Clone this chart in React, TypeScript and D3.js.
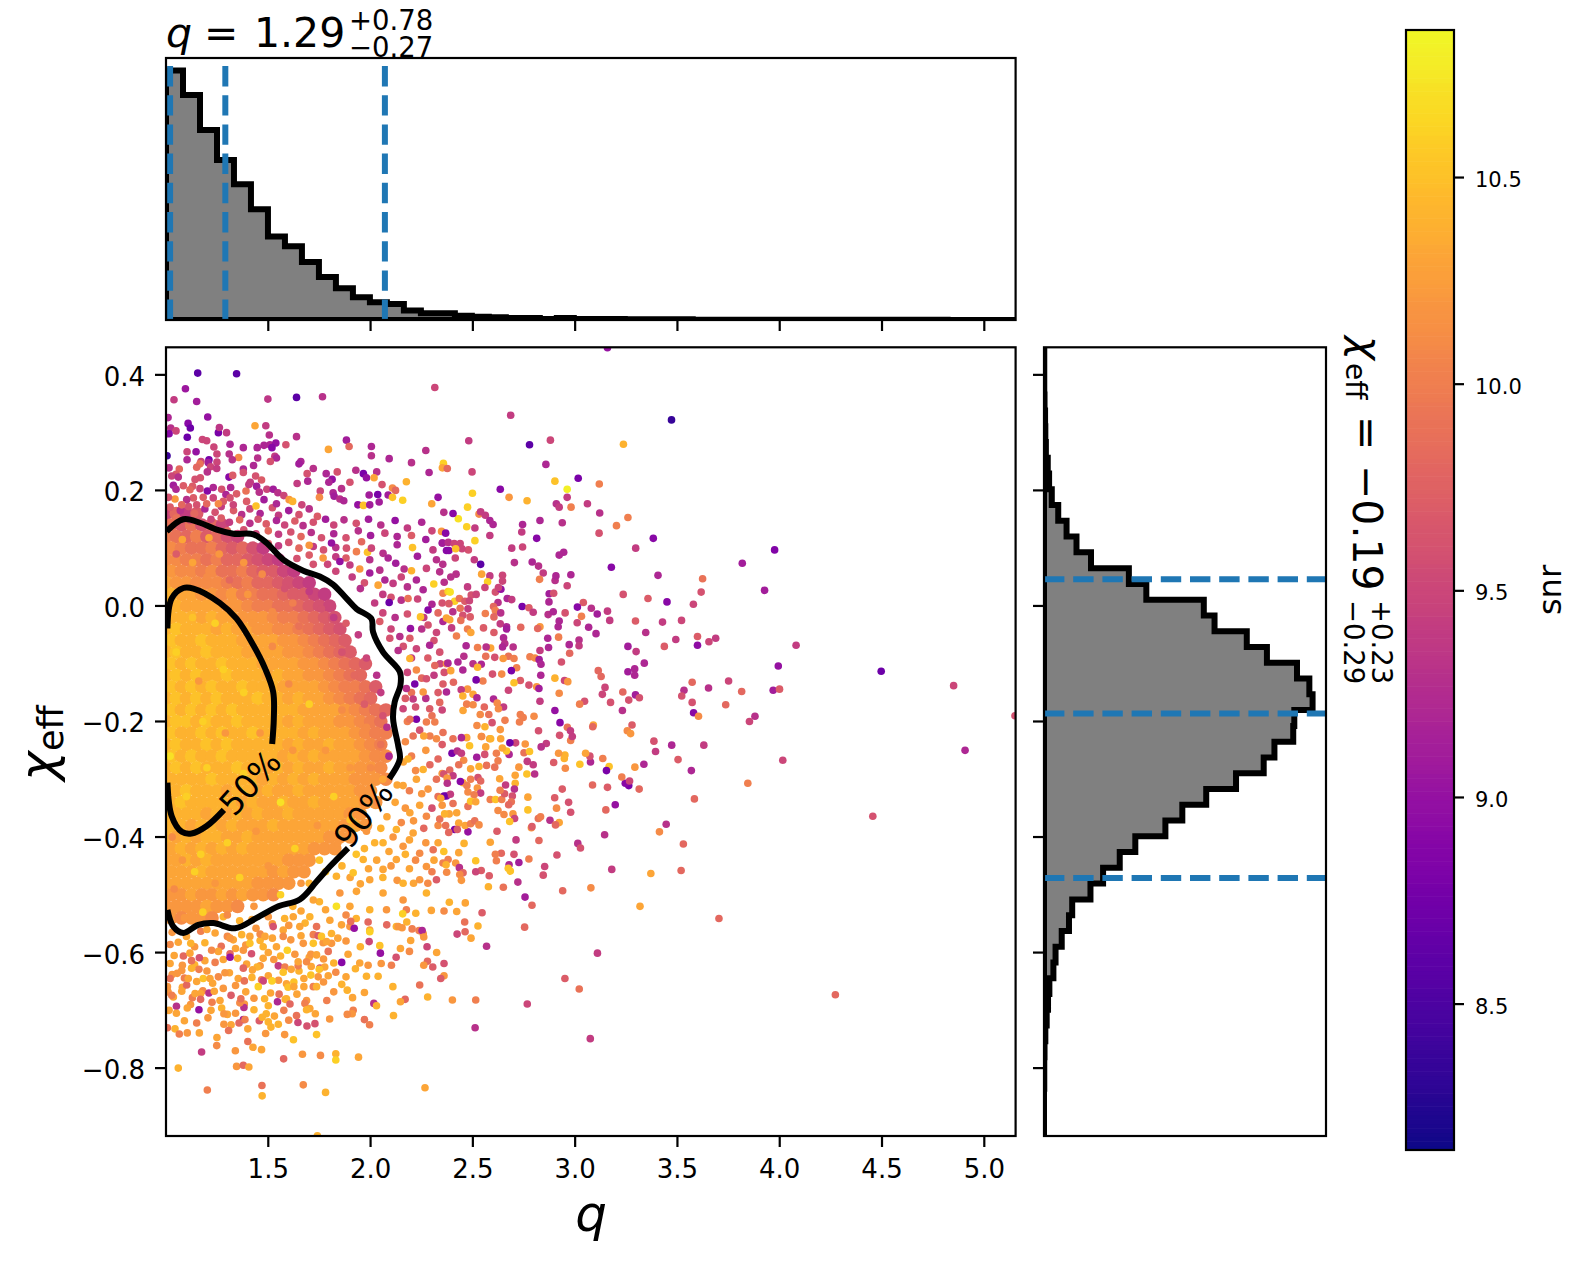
import React from 'react';
import * as d3 from 'd3';

// histograms: 50 bins over the axis range, heights relative to the tallest bin (=1000)
const qHist = [1000,902,761,641,544,444,335,296,232,172,127,91,71,64,38,27,27,17,13,11,8,8,4,8,4,4,4,3,3,3,3,1,1,1,1,1,1,1,1,1,1,1,1,1,1,1,0,0,0,0];
const chiHist = [1,1,1,2,4,5,7,14,19,29,53,84,121,175,316,381,595,635,755,830,942,988,1000,932,928,858,818,715,604,515,452,340,282,220,173,105,93,66,43,35,20,15,10,5,2,1,1,0,0,0];

const qQuantiles = [1.02, 1.29, 2.07];
const chiQuantiles = [0.046, -0.186, -0.471];

const qTicks = [1.5,2,2.5,3,3.5,4,4.5,5];
const chiTicks = [0.4,0.2,0,-0.2,-0.4,-0.6,-0.8];
const snrTicks = [8.5,9,9.5,10,10.5];

const qRange = [1, 5.153];
const chiRange = [-0.9175, 0.4477];
const snrRange = [8.147, 10.857];

// contours, split where the inline labels sit
const c90Upper = [[1.003,.129],[1.085,.15],[1.166,.144],[1.248,.132],[1.329,.125],[1.427,.124],[1.492,.109],[1.573,.08],[1.671,.061],[1.752,.051],[1.817,.037],[1.882,.013],[1.931,-.005],[2.004,-.022],[2.012,-.045],[2.061,-.08],[2.143,-.114],[2.146,-.137],[2.118,-.166],[2.11,-.195],[2.135,-.242],[2.143,-.265],[2.091,-.299]];
const c90Lower = [[1.89,-.419],[1.801,-.451],[1.736,-.477],[1.654,-.508],[1.549,-.52],[1.443,-.54],[1.337,-.558],[1.231,-.549],[1.158,-.552],[1.085,-.566],[1.036,-.555],[1.007,-.526]];
const c50Upper = [[1.007,-.039],[1.028,.013],[1.085,.031],[1.134,.03],[1.264,.005],[1.345,-.022],[1.427,-.068],[1.484,-.108],[1.524,-.149],[1.527,-.195],[1.519,-.239]];
const c50Lower = [[1.283,-.353],[1.199,-.381],[1.125,-.394],[1.077,-.391],[1.028,-.364],[1.007,-.306]];

// dense core of the scatter: too many points to read one by one, so this is the
// snr seen in each cell, rows from chi=0.16 down in 0.02 steps, columns from q=1 in 0.05 steps
const coreRows = [
[9.5,9.8,9.4,9.7],
[9.9,9.7,9.9,9.6,9.8,9.5],
[10.0,9.9,9.8,10.0,9.7,9.8,9.6,9.5],
[10.1,10.0,9.9,9.9,10.0,9.8,9.7,9.8,9.6,9.4],
[10.1,10.1,10.0,10.0,9.9,10.0,9.8,9.8,9.7,9.6,9.5,9.4],
[10.2,10.1,10.1,10.0,10.1,9.9,9.9,10.0,9.8,9.7,9.7,9.5,9.4],
[10.3,10.2,10.2,10.1,10.1,10.1,10.0,9.9,10.0,9.8,9.8,9.7,9.6,9.5,9.4],
[10.4,10.3,10.3,10.2,10.2,10.1,10.2,10.0,10.0,9.9,9.9,9.8,9.7,9.7,9.5,9.4],
[10.4,10.4,10.3,10.3,10.3,10.3,10.2,10.2,10.1,10.0,10.0,9.9,9.9,9.8,9.7,9.6,9.5],
[10.4,10.4,10.4,10.3,10.4,10.3,10.3,10.2,10.2,10.2,10.1,10.0,10.0,9.9,9.8,9.7,9.6],
[10.4,10.5,10.4,10.4,10.4,10.3,10.4,10.3,10.3,10.2,10.2,10.1,10.1,10.0,9.9,9.8,9.7,9.6],
[10.5,10.4,10.4,10.5,10.4,10.4,10.4,10.3,10.3,10.3,10.3,10.2,10.2,10.1,10.0,9.9,9.8,9.7],
[10.4,10.5,10.4,10.4,10.5,10.4,10.4,10.4,10.3,10.3,10.3,10.3,10.2,10.2,10.1,10.0,9.9,9.8,9.7],
[10.5,10.4,10.5,10.4,10.4,10.5,10.4,10.4,10.4,10.3,10.3,10.3,10.3,10.2,10.2,10.1,10.0,9.9,9.8,9.7],
[10.4,10.5,10.4,10.5,10.4,10.4,10.5,10.4,10.4,10.4,10.3,10.4,10.3,10.3,10.2,10.2,10.1,10.0,9.9,9.8],
[10.5,10.4,10.5,10.4,10.5,10.4,10.4,10.5,10.4,10.4,10.4,10.3,10.3,10.3,10.3,10.2,10.1,10.0,10.0,9.9,9.7],
[10.4,10.5,10.4,10.5,10.4,10.5,10.4,10.4,10.4,10.5,10.4,10.4,10.3,10.4,10.3,10.3,10.2,10.1,10.0,9.9,9.8],
[10.5,10.4,10.5,10.4,10.5,10.4,10.5,10.4,10.4,10.4,10.4,10.4,10.4,10.3,10.3,10.3,10.3,10.2,10.1,10.0,9.9,9.8],
[10.4,10.5,10.5,10.4,10.5,10.4,10.4,10.5,10.4,10.4,10.4,10.4,10.3,10.4,10.3,10.3,10.3,10.2,10.2,10.1,10.0,9.9],
[10.5,10.4,10.4,10.5,10.4,10.5,10.4,10.4,10.5,10.4,10.4,10.4,10.4,10.3,10.4,10.3,10.3,10.3,10.2,10.1,10.0,10.0],
[10.4,10.5,10.4,10.4,10.5,10.4,10.5,10.4,10.4,10.4,10.4,10.4,10.3,10.4,10.3,10.3,10.4,10.3,10.3,10.2,10.1,10.0],
[10.5,10.4,10.5,10.4,10.4,10.5,10.4,10.4,10.4,10.4,10.4,10.3,10.4,10.3,10.4,10.3,10.3,10.3,10.3,10.2,10.1,10.1],
[10.4,10.5,10.4,10.5,10.4,10.4,10.4,10.5,10.4,10.4,10.3,10.4,10.3,10.4,10.3,10.3,10.4,10.3,10.3,10.2,10.2,10.1],
[10.4,10.4,10.4,10.4,10.5,10.4,10.4,10.4,10.4,10.3,10.4,10.3,10.4,10.3,10.4,10.3,10.3,10.3,10.2,10.2,10.2,10.1],
[10.4,10.4,10.5,10.4,10.4,10.4,10.3,10.4,10.4,10.3,10.4,10.3,10.3,10.4,10.3,10.3,10.3,10.3,10.3,10.2,10.2],
[10.4,10.5,10.4,10.4,10.4,10.4,10.4,10.3,10.4,10.3,10.3,10.4,10.3,10.3,10.4,10.3,10.3,10.3,10.3,10.2,10.2],
[10.4,10.4,10.4,10.4,10.3,10.4,10.3,10.4,10.3,10.4,10.3,10.3,10.4,10.3,10.3,10.3,10.3,10.3,10.2,10.2],
[10.4,10.4,10.3,10.4,10.4,10.3,10.4,10.3,10.3,10.3,10.4,10.3,10.3,10.3,10.3,10.3,10.3,10.2,10.3,10.2],
[10.4,10.3,10.4,10.3,10.4,10.4,10.3,10.3,10.4,10.3,10.3,10.3,10.3,10.3,10.3,10.3,10.2,10.2,10.2],
[10.3,10.4,10.3,10.4,10.3,10.4,10.3,10.4,10.3,10.3,10.3,10.3,10.3,10.3,10.2,10.2,10.2],
[10.3,10.3,10.4,10.3,10.4,10.3,10.3,10.3,10.3,10.3,10.3,10.3,10.2,10.2,10.2],
[10.3,10.3,10.3,10.4,10.3,10.3,10.3,10.3,10.3,10.3,10.2,10.3,10.2,10.2],
[10.3,10.3,10.3,10.3,10.3,10.3,10.3,10.3,10.3,10.2,10.2,10.2,10.2],
[10.2,10.2,10.3,10.2,10.2,10.3,10.2,10.3,10.2,10.2,10.1],
[10.2,10.2,10.2,10.2,10.3,10.2,10.2,10.1],
[10.2,10.1,10.2,10.2,10.1],
];

// single points: [q, chi, snr]
const upperPoints = [[1.155,.403,8.6],[1.345,.402,8.6],[1.095,.376,9.05],[1.039,.357,9.4],[1.15,.354,9.1],[1.498,.358,9.35],[1.638,.361,8.6],[1.765,.362,9.3],[2.314,.378,9.5],[1.01,.326,9.2],[1.204,.327,9],[1.108,.316,8.9],[1.119,.308,8.7],[1.023,.308,9.3],[1.049,.303,9.5],[1.015,.298,8.9],[1.104,.292,8.7],[1.256,.3,8.8],[1.261,.309,9.35],[1.296,.3,9.4],[1.435,.312,10.3],[1.488,.312,9.4],[1.505,.296,9.3],[1.638,.293,9.3],[1.178,.288,9.5],[1.199,.286,9.5],[1.313,.28,9.2],[1.234,.275,9.5],[1.103,.267,9.5],[1.147,.267,9],[1.249,.263,9.5],[1.378,.274,9.2],[1.446,.274,9.2],[1.479,.278,9.2],[1.508,.279,9.2],[1.537,.282,9],[1.518,.274,8.9],[1.586,.279,9.6],[1.882,.287,9.1],[1.794,.271,10.3],[1.895,.276,9.8],[2.004,.276,9.2],[2.27,.269,9.3],[2.48,.286,9.4],[1.005,.26,8.4],[1.103,.253,9.2],[1.21,.253,8.8],[1.207,.248,9.1],[1.171,.25,9.5],[1.249,.249,9.5],[1.309,.263,9.3],[1.355,.257,10.1],[1.324,.253,9.3],[1.448,.256,9.3],[1.532,.259,9.4],[1.54,.256,9.2],[1.51,.25,9.6],[1.428,.243,9.2],[1.659,.25,9.2],[1.65,.246,9.1],[2.004,.26,9.3],[2.091,.255,9.2],[2.2,.248,9.3],[2.356,.247,10.6],[2.351,.239,10.3],[2.375,.238,9.8],[2.286,.231,9.2],[1.166,.246,9.9],[1.15,.24,9.8],[1.015,.239,9.3],[1.065,.237,9.8],[1.218,.241,9.5],[1.248,.238,9.4],[1.378,.237,9.2],[1.72,.238,9.3],[1.69,.229,9.6],[1.928,.235,9.3],[1.837,.232,9.6],[1.783,.229,9.2],[1.965,.229,8.8],[2.03,.232,9.3],[1.98,.222,9],[2.017,.222,10.3],[2.175,.215,10.4],[1.049,.228,9.7],[1.028,.225,9.5],[1.06,.223,9.3],[1.168,.222,9.6],[1.142,.219,9.6],[1.202,.232,9.3],[1.308,.223,8.9],[1.326,.226,9.7],[1.378,.231,9.6],[1.438,.225,9.6],[1.412,.214,9.4],[1.467,.218,9.7],[1.641,.212,9.4],[1.693,.216,9.2],[1.812,.219,9],[1.796,.214,9.2],[1.899,.214,9.6],[2.056,.21,9.6],[1.036,.209,9.1],[1.049,.202,9.2],[1.085,.208,9.7],[1.13,.207,9.7],[1.117,.201,9.8],[1.166,.203,9.5],[1.202,.199,8.9],[1.231,.205,9.2],[1.272,.202,9.6],[1.316,.205,9.2],[1.293,.193,9.2],[1.345,.194,9.7],[1.391,.199,9.9],[1.405,.21,9.4],[1.443,.207,9.1],[1.456,.197,9.3],[1.493,.202,9.5],[1.524,.202,9.1],[1.547,.196,9.3],[1.576,.191,9.5],[1.754,.199,9.5],[1.817,.196,9.2],[1.858,.203,9.3],[2.107,.204,10.1],[2.122,.2,9.8],[1.993,.192,9.1],[2.035,.193,8.8],[2.086,.192,9.1],[2.107,.188,10.5],[2.157,.183,10.6],[2.33,.188,9],[2.299,.177,10.3],[1.822,.19,9.1],[1.85,.185,9.3],[1.869,.182,9.2],[1.938,.175,9],[1.965,.174,10.5],[1.996,.175,9.1],[2.042,.18,9.1],[1.75,.188,10.1],[1.664,.175,9.5],[1.602,.184,10.2],[1.619,.181,10.4],[1.54,.177,9.2],[1.479,.184,9.1],[1.44,.173,10.5],[1.394,.181,9.7],[1.329,.175,9.5],[1.313,.187,9.6],[1.28,.181,9.7],[1.231,.187,9.5],[1.182,.188,9.7],[1.134,.187,9.7],[1.101,.184,9.3],[1.044,.185,10.2],[1.012,.188,9.6],[1.256,.177,10.1],[1.199,.177,9.8],[1.15,.175,9.6],[1.077,.175,9.8]];

const fringePoints = [[2.351,.109,9],[1.956,.111,9.8],[1.882,.1,9.6],[1.931,.094,10],[1.985,.093,10.5],[2.004,.1,9.5],[2.061,.091,9.3],[2.13,.106,9.2],[2.205,.101,10.5],[2.229,.086,9.1],[2.305,.097,9.4],[2.371,.096,8.9],[2.322,.08,9.3],[2.123,.074,9.1],[2.086,.083,9.2],[1.996,.08,9.3],[1.947,.064,10.2],[1.899,.071,9.4],[1.85,.077,9],[1.809,.109,9],[1.768,.083,10.2],[1.7,.105,10.2],[2.273,.065,9.5],[2.164,.064,9.3],[2.2,.061,10.4],[2.045,.062,9.3],[1.996,.057,9.1],[2.037,.036,10.3],[2.11,.039,9.4],[2.224,.045,9.2],[2.309,.038,10.6],[2.257,.028,9.2],[2.354,.022,10],[2.379,.025,10.6],[2.183,.013,9.9],[2.091,.006,8.7],[2.281,-.007,8.9],[2.244,-.019,10.5],[2.195,-.039,9],[2.143,-.053,9.3],[2.354,-.027,9.2],[2.371,-.021,10.3],[2.281,-.033,9.6],[2.322,-.046,9.5],[2.192,-.091,10.4],[2.224,-.111,10.1],[2.314,-.103,9.8],[2.371,-.1,10.1],[2.273,-.126,9.6],[2.354,-.135,9.7],[2.216,-.135,8.8],[2.371,-.149,9.2],[2.314,-.201,10],[2.257,-.149,10.2],[2.224,-.196,8.8],[2.26,-.225,10.3],[2.322,-.23,10.1],[2.208,-.225,9.9],[2.371,-.329,8.9],[2.045,-.027,9.7],[2.094,-.056,9.6],[2.135,-.077,9.3],[2.192,-.056,9.7],[2.224,-.074,9.5],[2.289,-.068,9.2],[2.338,-.08,9.6],[2.175,-.143,9.3],[2.159,-.178,9.5],[2.208,-.161,9.4],[2.289,-.178,9.7],[2.338,-.167,9.8],[2.192,-.196,9.9],[2.273,-.201,10],[2.354,-.219,9.9],[2.183,-.265,10.4],[2.257,-.283,10.4],[2.322,-.3,9.9],[2.224,-.3,10.3],[2.159,-.311,10.3],[2.281,-.317,10.2],[2.192,-.358,10.3],[2.273,-.364,10.1],[2.338,-.369,9.9],[2.126,-.387,10.4],[2.208,-.393,10.3],[2.061,-.41,10.4],[2.159,-.416,10.2],[2.24,-.428,10.1],[2.306,-.422,9.9],[2.354,-.445,10],[2.273,-.451,10.2],[2.126,-.439,10.3],[1.964,-.439,10.4],[2.061,-.456,10.3],[1.996,-.474,10.3],[1.915,-.462,10.5],[1.833,-.468,10.4],[2.159,-.48,10.4],[2.24,-.474,10.2],[2.322,-.474,9.7],[1.931,-.494,10.3],[2.061,-.497,10.3],[2.159,-.509,10.2],[2.273,-.497,10.4],[1.833,-.52,10.7],[1.899,-.52,10.3],[1.996,-.526,10.4],[2.078,-.526,10.2],[2.175,-.526,10],[1.72,-.509,10.3],[1.703,-.538,10.4],[1.801,-.544,10.3],[1.622,-.538,10.3],[1.899,-.555,10.2],[1.996,-.561,10.3],[2.126,-.555,10.4],[2.257,-.567,10.2],[1.524,-.555,9.6],[1.573,-.561,10.3],[1.41,-.572,10.3],[1.329,-.578,10.3]];

// estimated where the dots crowd too much to separate them: band above the 90% contour,
// right of it, below it, and the odd lighter or darker dot inside it
const crowdedPoints = [[1.02,.171,9.7],[1.07,.165,9.3],[1.11,.172,9.6],[1.14,.16,9.8],[1.19,.168,9.2],[1.24,.162,9.6],[1.27,.172,9.4],[1.33,.165,9.7],[1.37,.158,9.3],[1.41,.168,9.5],[1.46,.16,9.2],[1.52,.17,9.6],[1.55,.157,9.4],[1.6,.165,9.1],[1.65,.158,9.6],[1.7,.168,9.3],[1.74,.155,9.7],[1.05,.152,9.9],[1.12,.148,9.6],[1.22,.15,9.5],[1.27,.152,9.7],[1.31,.145,9.4],[1.36,.149,9.8],[1.41,.143,9.3],[1.45,.15,9.6],[1.49,.142,9.7],[1.54,.148,9.2],[1.58,.14,9.5],[1.63,.147,9.7],[1.67,.139,9.3],[1.72,.145,9.6],[1.78,.15,9.1],[1.82,.14,9.5],[1.87,.149,9.3],[1.93,.143,9.6],[1.99,.15,9.1],[2.05,.14,9.3],[2.12,.148,9],[2.18,.135,9.4],[2.25,.145,9.2],[2.3,.13,9.5],[1.3,.13,9.8],[1.38,.132,9.6],[1.44,.125,9.5],[1.5,.13,9.8],[1.55,.124,9.4],[1.61,.128,9.6],[1.66,.12,9.8],[1.71,.127,9.3],[1.76,.118,9.6],[1.82,.125,9.2],[1.88,.118,9.6],[1.94,.13,9.3],[2,.122,9.1],[2.07,.126,9.5],[2.13,.12,9.2],[2.2,.122,9.7],[2.27,.115,9.1],[1.5,.108,9.7],[1.55,.104,9.4],[1.6,.11,9.6],[1.65,.1,9.8],[1.72,.103,9.4],[1.77,.097,9.6],[1.83,.101,9.3],[1.7,.088,9.7],[1.64,.082,9.6],[1.79,.072,9.5],[1.83,.085,9.4],[1.88,.083,9.7],[1.72,.072,9.6],[1.83,.06,9.5],[1.91,.05,9.4],[1.97,.04,9.6],[1.95,.03,9.3],[2.07,.045,9.2],[2.15,.05,9.5],[2.18,.033,9.3],[2.06,.02,9.4],[2.1,.015,9.6],[2.15,.01,9.3],[2.23,.012,9.5],[2.3,.003,9.2],[2.35,.005,9.6],[2.02,.005,9.4],[2.06,-.012,9.5],[2.12,-.02,9.3],[2.18,-.014,9.6],[2.26,-.02,9.4],[2.33,-.012,9.8],[2.1,-.04,9.5],[2.16,-.07,9.6],[2.25,-.04,9.3],[2.31,-.06,9.6],[2.2,-.09,9.4],[2.28,-.09,9.7],[2.34,-.1,9.5],[2.18,-.115,9.5],[2.25,-.125,9.8],[2.31,-.12,9.4],[2.36,-.115,9.6],[2.2,-.15,9.9],[2.27,-.16,9.3],[2.33,-.15,9.7],[2.17,-.16,9.7],[2.22,-.175,9.6],[2.3,-.19,9.9],[2.35,-.18,9.5],[2.18,-.2,10],[2.24,-.215,9.6],[2.29,-.225,10],[2.35,-.24,9.7],[2.17,-.235,10.1],[2.2,-.26,10],[2.27,-.25,10.2],[2.33,-.265,9.8],[2.16,-.27,10.3],[2.22,-.285,10.1],[2.29,-.275,9.8],[2.35,-.29,10.2],[2.13,-.31,10.3],[2.19,-.32,10],[2.25,-.325,10.2],[2.33,-.33,9.9],[2.12,-.34,10.3],[2.17,-.35,10.2],[2.24,-.345,10.3],[2.3,-.35,9.6],[2.35,-.345,10.2],[2.08,-.365,10.3],[2.15,-.375,10.1],[2.21,-.372,10.2],[2.26,-.385,9.8],[2.33,-.38,10.1],[2.05,-.385,10.4],[2.11,-.4,10.2],[2.19,-.405,10.3],[2.27,-.41,10.2],[2.33,-.41,10.3],[2.02,-.41,10.4],[2.09,-.425,10.3],[2.17,-.43,10.4],[2.22,-.44,10.1],[2.31,-.44,10.3],[1.97,-.42,10.4],[2.03,-.44,10.3],[2.1,-.45,10.2],[2.19,-.455,10.3],[2.3,-.46,10],[1.93,-.43,10.5],[1.99,-.455,10.3],[2.06,-.47,10.4],[2.13,-.475,10.2],[2.21,-.48,10.3],[2.28,-.48,10.1],[1.42,-.543,10.3],[1.5,-.538,10.2],[1.58,-.541,10.4],[1.66,-.528,10.3],[1.75,-.512,10.4],[1.85,-.497,10.2],[1.95,-.481,10.3],[1.03,-.565,10.2],[1.1,-.572,10.3],[1.17,-.563,10],[1.24,-.566,10.3],[1.3,-.572,10.1],[1.37,-.569,10.4],[1.44,-.558,10.2],[1.52,-.575,10.3],[1.6,-.553,10.2],[1.68,-.549,10.4],[1.78,-.526,10.3],[1.88,-.535,10.1],[1.93,-.541,10.4],[1.02,-.586,10.1],[1.06,-.582,10.3],[1.14,-.59,10.2],[1.19,-.583,10.4],[1.27,-.589,9.9],[1.34,-.593,10.3],[1.39,-.587,10.2],[1.46,-.579,10.4],[1.54,-.59,10.3],[1.61,-.578,10.2],[1.66,-.571,10.3],[1.72,-.569,10],[1.84,-.575,10.3],[1.88,-.58,10.2],[1.95,-.59,10.4],[1.04,-.605,10.3],[1.08,-.622,10.2],[1.14,-.621,10.4],[1.19,-.614,10.3],[1.24,-.617,10],[1.28,-.612,10.3],[1.35,-.61,10.4],[1.46,-.623,10.2],[1.5,-.6,10.3],[1.56,-.606,10.4],[1.63,-.603,10.2],[1.7,-.608,10.3],[1.77,-.611,10.2],[1.82,-.618,10.4],[1.89,-.603,10.3],[1.03,-.638,10.2],[1.09,-.644,10],[1.15,-.65,10.3],[1.2,-.632,10.2],[1.31,-.635,10.3],[1.34,-.657,10.2],[1.42,-.643,10.4],[1.5,-.64,10.3],[1.55,-.648,10.2],[1.65,-.632,10.4],[1.71,-.624,10.3],[1.77,-.651,10.2],[1.83,-.634,10.1],[1.88,-.642,10.3],[1.01,-.668,10.2],[1.08,-.66,10.3],[1.18,-.666,10.1],[1.28,-.662,10.2],[1.39,-.668,10.3],[1.43,-.679,10.2],[1.64,-.672,10.3],[1.82,-.668,10.2],[1.12,-.69,10.2],[1.22,-.7,10.3],[1.34,-.705,10.2],[1.53,-.71,10.3],[1.6,-.717,10.1],[1.73,-.706,10.3],[1.8,-.715,10.2],[1.09,-.718,10.3],[1.15,-.722,10],[1.4,-.732,10.3],[1.58,-.742,10.2],[1.52,-.55,10.2],[1.46,-.568,10.1],[1.36,-.545,10.4],[1.28,-.538,10.4],[1.2,-.56,10.3],[1.62,-.52,10.4],[1.7,-.48,10.4],[1.78,-.46,10.5],[1.86,-.45,10.4],[1.9,-.47,10.3],[1.21,.118,10.3],[1.26,.09,10.2],[1.08,.115,10.3],[1.13,.075,10.3],[1.05,.09,9.7],[1.2,.05,10.1],[1.38,.075,10.2],[1.31,.045,9.8],[1.47,.055,10.1],[1.4,.02,10.2],[1.58,.03,9.6],[1.62,.005,10],[1.52,-.01,10.1],[1.7,.025,9.4],[1.76,-.005,9.6],[1.65,-.035,9.9],[1.82,-.02,9.4],[1.88,-.03,9.7],[1.94,-.05,9.4],[1.78,-.06,9.9],[1.86,-.08,9.6],[1.98,-.09,9.5],[2.03,-.12,9.3],[1.92,-.12,9.8],[2.05,-.15,9.4],[1.97,-.17,9.7],[2.06,-.19,9.6],[2.08,-.21,9.3],[1.98,-.21,10.1],[2.05,-.24,9.9],[2.09,-.26,9.2],[2,-.28,10.1],[2.06,-.3,10.3],[1.96,-.33,10.2],[2.03,-.34,10.1],[1.9,-.37,10.5],[1.98,-.39,10.2],[1.84,-.41,10.2],[1.75,-.44,10.5],[1.66,-.48,10.2],[1.56,-.5,10.6],[1.43,-.52,10.2],[1.3,-.535,10.1],[1.18,-.53,10.6],[1.09,-.54,10.2],[1.04,-.49,10.1],[1.14,-.46,10.6],[1.24,-.48,10.2],[1.36,-.47,10.6],[1.5,-.45,10.2],[1.63,-.42,10.6],[1.74,-.38,10.2],[1.82,-.33,10.6],[1.9,-.28,10.2],[1.78,-.25,10.2],[1.86,-.18,10.1],[1.7,-.17,10.6],[1.62,-.25,10.2],[1.56,-.34,10.7],[1.44,-.39,10.2],[1.3,-.41,10.6],[1.17,-.43,10.6],[1.08,-.44,10.2],[1.03,-.4,10.1],[1.1,-.33,10.6],[1.02,-.26,10.7],[1.2,-.28,10.6],[1.29,-.22,10.2],[1.38,-.29,10.6],[1.46,-.22,10.2],[1.6,-.135,10.1],[1.52,-.07,10.1],[1.42,-.03,10.2],[1.33,.01,10.2],[1.24,-.03,10.6],[1.13,-.02,10.5],[1.05,-.08,10.6],[1.16,-.13,10.2],[1.28,-.11,10.6],[1.38,-.15,10.6],[1.18,-.2,10.6]];

const lowerPoints = [[2.545,-.531,9.7],[2.46,-.547,9.9],[2.525,-.554,10.4],[2.753,-.556,9.8],[2.462,-.564,9.8],[2.423,-.568,9.5],[2.491,-.575,10.3],[2.567,-.589,9.3],[2.359,-.619,9.6],[2.304,-.625,9.7],[2.278,-.615,9.8],[2.26,-.622,10.2],[2.359,-.64,10.2],[2.343,-.645,9.7],[2.24,-.656,9.9],[2.109,-.659,10.4],[2.4,-.682,10.2],[2.514,-.682,10],[2.766,-.689,9.5],[2.279,-.677,10.4],[2.169,-.681,9.8],[2.146,-.685,10.3],[2.016,-.688,9.3],[2.029,-.692,10.4],[2.112,-.709,10.4],[1.97,-.669,10.3],[1.912,-.678,10.3],[1.886,-.665,10.4],[1.859,-.655,10.4],[1.786,-.683,10],[1.915,-.7,10],[1.91,-.706,10.2],[1.886,-.707,10.1],[1.97,-.716,9.9],[1.995,-.725,10],[2.511,-.73,9.3],[2.323,-.6,10.3],[2.276,-.59,9.5],[2.421,-.529,10.3],[2.359,-.528,10.1],[2.297,-.527,10.3],[2.221,-.532,10.4],[2.157,-.533,10.6],[2.177,-.547,10.4],[2.203,-.559,10],[2.237,-.562,10],[2.252,-.562,9.2],[2.26,-.573,10.2],[2.196,-.579,10.3],[2.146,-.593,10.3],[2.19,-.598,10.1],[2.125,-.608,9.6],[2.052,-.619,10.2],[2.102,-.622,10],[2.037,-.641,10.4],[1.98,-.641,10.4],[1.926,-.628,10.4],[1.947,-.618,10.3],[1.988,-.622,10.2],[1.859,-.617,8.9],[2.045,-.588,10.5],[1.993,-.581,9.5],[2.048,-.601,9],[1.996,-.564,10.6],[1.92,-.558,9],[1.903,-.546,9.9],[1.988,-.547,9.8],[2.079,-.552,9.8],[2.135,-.555,10.2],[2.154,-.557,10.2],[1.858,-.552,10.3],[1.809,-.584,10.2],[1.768,-.583,10.2],[1.72,-.584,10.5],[1.744,-.571,9.7],[1.793,-.598,9.9],[1.623,-.751,10.5],[1.487,-.74,10.2],[1.736,-.742,10.5],[1.689,-.727,9.6],[1.728,-.723,9.6],[1.645,-.721,9.5],[1.638,-.709,9.9],[1.549,-.724,10.4],[1.513,-.729,10.4],[1.456,-.718,9.7],[1.5,-.72,10.4],[1.47,-.712,10.4],[1.49,-.706,10.4],[1.576,-.7,10],[1.43,-.699,10.4],[1.5,-.692,10.4],[1.383,-.689,10.2],[1.381,-.695,9.3],[1.361,-.687,10.1],[1.366,-.68,9.9],[1.318,-.674,9.7],[1.264,-.683,10.3],[1.21,-.67,9.3],[1.236,-.667,10.3],[1.225,-.686,10],[1.272,-.696,10.4],[1.3,-.707,10.3],[1.283,-.706,10.2],[1.205,-.713,10.2],[1.161,-.699,9],[1.104,-.696,10.3],[1.051,-.693,9.3],[1.015,-.7,10.3],[1.051,-.705,10.3],[1.378,-.716,9.1],[1.357,-.722,9.8],[1.318,-.725,10.3],[1.283,-.724,10.2],[1.386,-.716,10],[1.306,-.735,9.9],[1.007,-.73,9.9],[1.044,-.732,10.4],[1.065,-.741,10],[1.104,-.739,10.2],[1.163,-.739,10.3],[1.249,-.747,10.3],[1.248,-.761,10.1],[1.4,-.754,9.9],[1.425,-.764,10.3],[1.467,-.768,10.3],[1.339,-.77,10.2],[1.174,-.772,9.4],[1.667,-.776,10.2],[1.755,-.778,10.1],[1.83,-.775,10.4],[1.83,-.786,10.6],[1.941,-.781,10.3],[1.575,-.784,9.8],[1.06,-.8,10.4],[1.345,-.797,10.2],[1.378,-.795,9.8],[1.405,-.798,10.3],[1.469,-.83,9.9],[1.47,-.848,10.4],[1.202,-.838,10],[1.671,-.829,10.1],[1.78,-.842,10.4],[2.266,-.834,10.3],[1.74,-.917,10.4],[1.036,-.677,10.3],[1.028,-.674,10],[1.077,-.667,10.3],[1.129,-.678,10],[1.142,-.671,10.3],[1.169,-.671,10.3],[1.169,-.681,9.8],[1.101,-.656,9.8],[1.109,-.645,10.3],[1.055,-.636,10.2],[1.077,-.631,10.2],[1.125,-.627,10.4],[1.163,-.609,9.6],[1.125,-.614,9.9],[1.085,-.606,9.8],[1.121,-.584,10.4],[1.161,-.629,10],[1.182,-.645,10.5],[1.228,-.653,10.3],[1.215,-.645,10.3],[1.256,-.642,10.1],[1.288,-.635,10.2],[1.353,-.645,10.3],[1.383,-.649,9.9],[1.394,-.62,10.3],[1.378,-.627,9.8],[1.446,-.625,10.4],[1.423,-.63,10.3],[1.475,-.61,10.3],[1.527,-.612,10.2],[1.549,-.623,9.4],[1.581,-.625,10],[1.573,-.634,10.5],[1.612,-.629,10.3],[1.646,-.623,10],[1.687,-.616,10.1],[1.646,-.616,10.3],[1.752,-.627,9.6],[1.776,-.625,10.3],[1.749,-.629,10.5],[1.793,-.64,10.3],[1.708,-.639,10.5],[1.674,-.645,10.3],[1.744,-.642,10.2],[1.625,-.651,10.5],[1.518,-.649,10.6],[1.467,-.647,10],[1.475,-.649,9.5],[1.451,-.659,10.6],[1.589,-.654,10.3],[1.597,-.66,10.5],[1.625,-.659,10.3],[1.674,-.659,10.3],[1.72,-.659,10],[1.736,-.659,10.4],[1.687,-.683,10.2],[1.679,-.688,10],[1.703,-.697,10.3],[1.687,-.699,10.4],[1.589,-.68,10.4],[1.545,-.685,9.2],[1.553,-.672,9.9],[1.511,-.67,10.3],[1.482,-.68,10.4],[1.583,-.681,10.4],[1.606,-.689,9.8],[1.378,-.596,10.2],[1.313,-.602,9.8],[1.418,-.602,9.6],[1.313,-.608,9],[1.256,-.598,10.3],[1.223,-.596,10.1],[1.117,-.601,10.3],[1.02,-.619,10.3],[1.02,-.645,9.9],[1.007,-.659,10.2],[1.313,-.575,10.2],[1.41,-.584,10.5],[1.484,-.572,10.3],[1.573,-.572,10.1],[1.654,-.555,10.3],[1.736,-.555,9.9],[1.76,-.572,10.5],[1.809,-.567,10.4],[1.475,-.59,10.4],[1.593,-.596,10.6],[1.671,-.584,10.2],[1.708,-.603,10.2],[1.736,-.604,10.3],[1.785,-.581,10.3]];

const midPoints = [[3.629,-.241,9.4],[3.472,-.241,9.2],[3.385,-.234,9.6],[3.393,-.252,9.4],[3.503,-.266,9.7],[3.568,-.285,9.2],[3.844,-.307,10],[3.583,-.334,9.8],[3.445,-.378,9.3],[3.412,-.391,10.1],[3.529,-.412,9.8],[3.518,-.458,9.8],[3.37,-.463,10.3],[3.179,-.456,9.4],[3.144,-.396,9.3],[3.196,-.344,9],[3.15,-.353,9.8],[3.313,-.317,9.8],[3.262,-.311,8.8],[3.245,-.307,8.9],[3.266,-.303,9.5],[3.228,-.296,10],[3.158,-.314,9.7],[3.085,-.31,9.8],[3.292,-.279,10.2],[3.336,-.274,9.2],[3.166,-.278,10.5],[3.153,-.285,8.8],[3.135,-.264,10],[3.075,-.27,9.2],[3.072,-.26,9.6],[3.051,-.255,10.3],[3.023,-.274,10.5],[2.952,-.281,10.1],[2.895,-.271,9.7],[2.95,-.258,10.4],[2.947,-.264,10.4],[2.919,-.255,10.2],[2.978,-.233,10],[2.986,-.226,9.4],[2.924,-.224,9.6],[2.859,-.238,9.4],[2.834,-.244,9.3],[2.802,-.291,9.3],[2.795,-.275,9.4],[2.766,-.269,9.4],[2.764,-.291,10.5],[2.725,-.279,10.2],[2.707,-.293,10.3],[2.707,-.307,10.4],[2.66,-.31,9.4],[2.703,-.317,9.3],[2.631,-.299,10.3],[2.607,-.279,9.9],[2.567,-.276,9.9],[2.53,-.278,10.4],[2.489,-.282,10.3],[2.623,-.268,10],[2.615,-.255,10],[2.677,-.257,9.2],[2.75,-.254,9.9],[2.777,-.252,10.5],[2.756,-.239,10.2],[2.709,-.237,9.5],[2.681,-.237,8.7],[2.665,-.251,10.5],[2.644,-.246,10.3],[2.636,-.23,10.3],[2.582,-.23,10.3],[2.541,-.226,10.4],[2.47,-.228,10.3],[2.444,-.228,9.2],[2.484,-.242,10.5],[2.563,-.244,10.3],[2.558,-.257,9.6],[2.519,-.262,9.1],[2.455,-.267,10.1],[2.398,-.255,8.8],[2.424,-.251,9.3],[2.444,-.255,9.4],[2.403,-.23,9.9],[2.431,-.275,9.9],[2.387,-.284,9.8],[2.358,-.291,9.6],[2.403,-.294,9.4],[2.374,-.298,10.2],[2.489,-.3,10],[2.525,-.297,9.6],[2.538,-.303,9.8],[2.452,-.306,10.3],[2.439,-.304,8.9],[2.375,-.307,9.3],[2.471,-.311,10],[2.522,-.315,10.2],[2.476,-.322,10.1],[2.538,-.324,9.4],[2.506,-.327,10],[2.39,-.326,9.4],[2.359,-.329,8.7],[2.343,-.333,10.3],[2.403,-.342,9.9],[2.476,-.347,9.9],[2.489,-.338,10.5],[2.514,-.339,10.3],[2.585,-.335,10],[2.611,-.335,10.5],[2.641,-.335,10],[2.655,-.325,9.7],[2.633,-.319,10],[2.693,-.329,9.6],[2.688,-.339,9.9],[2.675,-.344,9.8],[2.769,-.331,10.3],[2.769,-.353,10.5],[2.623,-.354,10.1],[2.652,-.361,10.1],[2.696,-.36,10.2],[2.704,-.368,9.5],[2.68,-.373,10.5],[2.82,-.368,9.9],[2.831,-.365,10],[2.786,-.384,10.2],[2.789,-.382,9.7],[2.877,-.371,9.3],[2.922,-.375,10.3],[2.904,-.379,9.8],[2.978,-.357,9.6],[2.968,-.34,9.6],[2.909,-.35,10.1],[2.9,-.332,9.7],[2.937,-.317,9.7],[2.421,-.358,10.3],[2.384,-.36,10.3],[2.362,-.36,10.4],[2.431,-.376,10.3],[2.367,-.38,9.9],[2.411,-.387,8.8],[2.424,-.387,9.7],[2.476,-.391,9],[2.462,-.38,10.3],[2.489,-.377,10],[2.509,-.372,9.9],[2.53,-.379,10.1],[2.382,-.392,9.8],[2.618,-.39,9.7],[2.711,-.405,9.4],[2.823,-.406,9.8],[2.585,-.409,10.3],[2.457,-.411,10.4],[3.013,-.411,9.3],[3.026,-.419,9.6],[2.911,-.431,9.6],[2.701,-.43,9.6],[2.639,-.428,9.8],[2.61,-.43,10],[2.615,-.441,10],[2.431,-.427,10.3],[2.358,-.425,10.5],[2.514,-.441,10.5],[2.379,-.439,10],[2.416,-.445,10.2],[2.369,-.448,10.4],[2.774,-.438,10],[2.725,-.444,9.1],[2.677,-.448,9.2],[2.673,-.454,10.5],[2.683,-.459,10.5],[2.541,-.458,9.7],[2.514,-.46,9.5],[2.58,-.467,9.7],[2.851,-.451,9.5],[2.844,-.466,9.6],[2.434,-.453,9.3],[2.372,-.461,10.1],[2.452,-.462,9.8],[2.436,-.465,10.1],[2.444,-.475,10.2],[2.72,-.478,9.3],[2.576,-.486,10.4],[2.649,-.487,9.9],[2.939,-.493,9.8],[3.077,-.488,10.1],[2.755,-.504,9.1],[2.385,-.513,10.4],[2.463,-.514,10.3],[2.789,-.518,9.8],[3.317,-.52,10.3],[3.703,-.541,9.8],[4.272,-.673,9.8],[3.074,-.749,9.4],[2.95,-.645,9.7],[3.02,-.663,9.9],[3.109,-.601,9.4],[4.906,-.25,9.2],[4.455,-.364,9.6],[4.015,-.267,9.5]];

const rightPoints = [[3.158,.447,9],[2.685,.33,9.4],[3.471,.322,8.35],[2.777,.279,8.6],[2.879,.287,9.5],[3.236,.28,10.4],[2.857,.245,9.2],[3.015,.221,8.8],[3.118,.211,10],[2.901,.216,10.5],[2.961,.202,10.8],[2.634,.202,8.9],[2.496,.232,9.5],[2.498,.195,10.6],[2.677,.188,10.2],[2.765,.182,10.4],[2.961,.188,9.4],[2.908,.177,9.3],[2.922,.171,9.4],[2.98,.171,10],[3.06,.177,9.4],[2.474,.171,10.6],[2.429,.151,10.7],[2.403,.16,8.9],[2.358,.162,9.3],[2.53,.159,10.1],[2.538,.163,9.4],[2.561,.157,9.4],[2.583,.148,9.2],[2.599,.141,9.2],[2.47,.137,10.6],[2.51,.135,9.4],[2.743,.141,9.2],[2.828,.148,9.2],[2.937,.144,9.3],[3.12,.161,9.3],[3.258,.153,10],[3.202,.139,10],[2.347,.129,10.2],[2.367,.126,8.9],[2.739,.128,9.4],[2.812,.117,8.9],[2.583,.122,9.4],[3.117,.126,9.6],[3.382,.117,8.9],[3.975,.097,8.85],[3.296,.1,9.4],[3.817,.074,9.1],[2.51,.113,10.6],[2.351,.109,9.1],[2.38,.11,9.3],[2.409,.108,9.5],[2.438,.108,9.5],[2.69,.1,9.4],[2.743,.102,9.5],[2.944,.093,9.2],[2.922,.088,9.2],[2.414,.083,9.5],[2.478,.097,9.6],[2.447,.099,9.5],[2.383,.096,8.9],[2.416,.099,10.5],[2.507,.08,9.4],[2.538,.072,8.6],[3.177,.067,8.9],[2.703,.075,9.3],[2.79,.076,9.2],[2.821,.069,9.3],[2.844,.057,9.4],[2.353,.072,9.3],[2.338,.059,9.3],[2.418,.055,9.3],[2.543,.055,10.3],[2.583,.052,9.4],[2.645,.053,9.5],[2.645,.043,9.5],[2.572,.042,10.6],[2.826,.046,10],[2.902,.044,9.3],[2.906,.052,9.2],[2.979,.054,9.2],[2.961,.035,9.5],[3.405,.053,9.2],[3.623,.047,9.9],[3.616,.024,9.6],[3.926,.027,9.1],[2.36,.041,9.3],[2.392,.05,9.3],[2.474,.033,9.4],[2.559,.032,9.5],[2.61,.024,9.6],[2.637,.029,9],[2.625,.032,9.5],[2.389,.024,10.7],[2.411,.008,10.6],[2.492,.019,9.6],[2.516,.02,9.5],[2.873,.021,9.1],[2.895,.022,9.6],[3.235,.02,9.6],[3.356,.013,9.7],[3.449,.007,8.9],[3.578,.003,9.5],[2.434,.013,9.9],[2.461,.008,9.7],[2.483,.009,9.5],[2.668,.013,9.2],[2.69,.011,9.4],[2.623,.006,9.3],[2.872,.007,9.2],[3.04,.006,9.7],[2.601,-.001,9.8],[2.741,-.001,8.8],[2.774,-.003,9.7],[3.011,-.002,8.9],[3.079,-.004,9.3],[3.158,-.009,9.4],[3.108,-.014,9.1],[2.383,.004,9.7],[2.438,-.004,9.9],[2.476,-.005,9.4],[2.402,-.01,9.3],[2.61,-.008,10],[2.795,-.011,9.4],[2.868,-.015,9.3],[2.893,-.01,9.2],[2.951,-.012,9.6],[3.031,-.018,10],[2.561,-.013,10],[2.451,-.016,9.6],[2.487,-.019,9.7],[2.603,-.019,9.8],[2.636,-.012,9.3],[2.387,-.024,10.3],[2.441,-.025,9.9],[2.922,-.026,9.2],[3.01,-.029,9.5],[3.169,-.025,9.4],[3.295,-.026,9.7],[3.427,-.028,9.4],[3.52,-.025,9.5],[2.634,-.031,9.4],[2.917,-.036,9.2],[3.066,-.037,9.2],[2.734,-.037,9.8],[2.828,-.036,10.2],[2.817,-.039,9.8],[2.552,-.038,9.7],[2.665,-.036,9.2],[2.665,-.04,9.1],[2.396,-.038,9.4],[2.474,-.04,10],[2.49,-.046,10.3],[2.603,-.046,9.7],[3.345,-.046,9.3],[3.102,-.048,9.2],[3.598,-.053,9.7],[3.687,-.056,9.4],[3.492,-.058,9.4],[3.654,-.062,9.5],[2.65,-.055,9.2],[2.866,-.056,9.2],[2.919,-.054,10],[3.019,-.059,9.3],[2.42,-.052,10],[2.656,-.065,9.3],[2.971,-.067,9.2],[3.019,-.069,9.4],[3.258,-.07,9.1],[3.436,-.07,9.7],[3.598,-.068,8.95],[4.08,-.068,9.4],[2.467,-.069,9.2],[2.697,-.071,9.3],[2.645,-.071,9.2],[2.87,-.072,9.2],[2.828,-.077,9.4],[2.587,-.073,10.3],[2.523,-.072,10],[2.565,-.071,9.3],[3.298,-.079,9.4],[2.973,-.082,9.8],[2.456,-.087,9.3],[2.563,-.087,9.9],[2.607,-.089,9.6],[2.674,-.087,9.9],[2.701,-.091,10],[2.779,-.088,10],[2.804,-.09,10.1],[2.648,-.091,10.2],[2.933,-.097,9.6],[3.338,-.099,9.2],[2.824,-.093,9.1],[2.833,-.101,9.2],[3.993,-.104,9],[4.496,-.113,8.7],[4.85,-.138,9.5],[2.378,-.099,9.2],[2.427,-.097,9.2],[2.501,-.1,9.3],[2.541,-.101,9.2],[2.523,-.106,10.4],[2.714,-.107,10],[3.113,-.112,9.8],[3.291,-.109,9.2],[2.392,-.112,10.3],[2.451,-.111,9.2],[2.596,-.118,9.6],[2.641,-.118,10.1],[2.688,-.112,8.8],[2.832,-.12,9.2],[3.258,-.114,9.1],[3.291,-.12,9.2],[3.127,-.122,9.8],[2.901,-.125,10.4],[2.732,-.129,9.7],[2.549,-.13,10],[2.516,-.128,8.8],[2.405,-.132,9.8],[3.572,-.132,9.8],[3.75,-.13,9.5],[2.701,-.133,10.5],[2.774,-.137,9.6],[2.812,-.14,10.2],[2.948,-.129,9.5],[2.964,-.131,10.2],[3.652,-.142,9.3],[3.146,-.141,9.5],[2.674,-.146,9.5],[2.823,-.143,9.1],[2.474,-.144,10.2],[2.443,-.145,9.4],[3.968,-.146,9.1],[3.999,-.144,9.7],[3.814,-.148,9.8],[3.532,-.146,9.3],[3.233,-.149,9.8],[2.922,-.151,10.1],[3.133,-.153,9.5],[2.501,-.153,10.3],[2.451,-.156,10.4],[3.295,-.154,9.1],[3.314,-.159,9.6],[3.521,-.156,9.6],[3.262,-.163,9.6],[2.52,-.159,9.2],[2.601,-.161,9.2],[2.828,-.165,9.4],[3.046,-.165,9.6],[3.022,-.17,10],[3.173,-.167,9.6],[3.572,-.167,9.6],[3.736,-.171,9.8],[2.619,-.168,10.1],[2.47,-.17,10],[2.501,-.171,10.1],[2.65,-.175,9.4],[2.625,-.178,10.1],[2.556,-.175,9.8],[2.901,-.181,9],[2.452,-.181,10.3],[3.231,-.181,9.3],[2.732,-.188,10],[3.579,-.185,8.9],[3.603,-.191,10.1],[2.799,-.191,10.1],[2.536,-.188,10.1],[2.578,-.188,9.9],[3.879,-.191,9.3],[2.746,-.193,10],[2.657,-.198,10],[3.852,-.2,9.5],[2.728,-.201,10],[2.926,-.202,8.9],[2.594,-.202,9.6],[3.278,-.206,9.7],[3.089,-.206,10.3],[2.962,-.21,9.9],[3.086,-.209,9.8],[2.52,-.207,10.1],[2.559,-.209,10.4],[2.821,-.216,9.6],[2.634,-.214,10.2],[2.977,-.216,9.4],[3.255,-.216,10.1],[3.271,-.221,10.2],[2.543,-.226,10.1],[2.587,-.23,10.4],[5.15,-.19,9.6]];

const font = 'DejaVu Sans';

const App: React.FC = () => {
  const xMain = d3.scaleLinear().domain(qRange).range([166, 1015.6]);
  const yMain = d3.scaleLinear().domain(chiRange).range([1136, 347.3]);
  const yTop = d3.scaleLinear().domain([0, 1050]).range([320, 58]);
  const xRight = d3.scaleLinear().domain([0, 1050]).range([1044, 1326]);
  const yBar = d3.scaleLinear().domain(snrRange).range([1150, 30]);
  const color = d3.scaleSequential(d3.interpolatePlasma).domain(snrRange);

  // closed step outlines, like histtype step
  const qStep = qHist.flatMap((v, i) => {
    const w = (qRange[1] - qRange[0]) / qHist.length;
    return [[xMain(qRange[0] + i * w), yTop(v)], [xMain(qRange[0] + (i + 1) * w), yTop(v)]];
  });
  const qOutline = 'M' + [[xMain(qRange[0]), yTop(0)], ...qStep, [xMain(qRange[1]), yTop(0)]].join('L') + 'Z';

  const chiStep = chiHist.flatMap((v, i) => {
    const w = (chiRange[1] - chiRange[0]) / chiHist.length;
    return [[xRight(v), yMain(chiRange[1] - i * w)], [xRight(v), yMain(chiRange[1] - (i + 1) * w)]];
  });
  const chiOutline = 'M' + [[xRight(0), yMain(chiRange[1])], ...chiStep, [xRight(0), yMain(chiRange[0])]].join('L') + 'Z';

  const contour = d3.line<number[]>().x(d => xMain(d[0])).y(d => yMain(d[1])).curve(d3.curveCatmullRom);
  const points = [...crowdedPoints, ...upperPoints, ...fringePoints, ...midPoints, ...lowerPoints, ...rightPoints];
  const barSteps = d3.range(256);
  const tickFormat = d3.format('.1f');

  return (
    <svg width={1587} height={1263} style={{ position: 'absolute', left: 0, top: 0, background: '#fff' }} fontFamily={font}>
      <defs>
        <clipPath id="mainClip"><rect x={166} y={347.3} width={849.6} height={788.7} /></clipPath>
        <clipPath id="topClip"><rect x={166} y={58} width={849.6} height={262} /></clipPath>
        <clipPath id="rightClip"><rect x={1044} y={347.3} width={282} height={788.7} /></clipPath>
      </defs>

      {/* main scatter */}
      <g clipPath="url(#mainClip)">
        {coreRows.map((row, r) => row.map((s, c) => (
          <circle key={`${r}-${c}`} cx={xMain(1 + (c + (r % 2) * 0.5) * 0.05)} cy={yMain(0.16 - r * 0.02)} r={6.8} fill={color(s)} />
        )))}
        {points.map((p, i) => <circle key={i} cx={xMain(p[0])} cy={yMain(p[1])} r={3.8} fill={color(p[2])} />)}
        {[c90Upper, c90Lower, c50Upper, c50Lower].map((c, i) => (
          <path key={i} d={contour(c) as string} fill="none" stroke="#000" strokeWidth={6} />
        ))}
      </g>
      <text transform={`translate(${xMain(1.41)},${yMain(-0.3055)}) rotate(-48)`} textAnchor="middle" dy="0.36em" fontSize={33}>50%</text>
      <text transform={`translate(${xMain(1.964)},${yMain(-0.3606)}) rotate(-52)`} textAnchor="middle" dy="0.36em" fontSize={33}>90%</text>
      <rect x={166} y={347.3} width={849.6} height={788.7} fill="none" stroke="#000" strokeWidth={2.2} />
      {qTicks.map(t => (
        <g key={t} transform={`translate(${xMain(t)},1136)`}>
          <line y2={11} stroke="#000" strokeWidth={2.2} />
          <text y={42} textAnchor="middle" fontSize={26}>{tickFormat(t)}</text>
        </g>
      ))}
      {chiTicks.map(t => (
        <g key={t} transform={`translate(166,${yMain(t)})`}>
          <line x2={-11} stroke="#000" strokeWidth={2.2} />
          <text x={-21} y={11} textAnchor="end" fontSize={26}>{tickFormat(t)}</text>
        </g>
      ))}
      <text x={591} y={1231} textAnchor="middle" fontSize={50} fontStyle="italic">q</text>
      <text transform="translate(55,743) rotate(-90)" textAnchor="middle" fontSize={50}>
        <tspan fontStyle="italic">χ</tspan><tspan fontSize={35} dy={8}>eff</tspan>
      </text>

      {/* top histogram */}
      <text x={166} y={47} fontSize={41} fontStyle="italic">q</text>
      <text x={204} y={47} fontSize={41}>=</text>
      <text x={254} y={47} fontSize={41}>1.29</text>
      <text x={349} y={29.5} fontSize={27.5}>+0.78</text>
      <text x={349} y={57} fontSize={27.5}>−0.27</text>
      <g clipPath="url(#topClip)">
        <path d={qOutline} fill="#808080" stroke="#000" strokeWidth={6} strokeLinejoin="miter" />
        {qQuantiles.map(q => (
          <line key={q} x1={xMain(q)} x2={xMain(q)} y1={320} y2={58} stroke="#1f77b4" strokeWidth={6} strokeDasharray="20.4 8.8" />
        ))}
      </g>
      <rect x={166} y={58} width={849.6} height={262} fill="none" stroke="#000" strokeWidth={2.2} />
      {qTicks.map(t => <line key={t} x1={xMain(t)} x2={xMain(t)} y1={320} y2={331} stroke="#000" strokeWidth={2.2} />)}

      {/* right histogram */}
      <g clipPath="url(#rightClip)">
        <path d={chiOutline} fill="#808080" stroke="#000" strokeWidth={6} />
        {chiQuantiles.map(c => (
          <line key={c} x1={1044} x2={1326} y1={yMain(c)} y2={yMain(c)} stroke="#1f77b4" strokeWidth={6} strokeDasharray="20.4 8.8" />
        ))}
      </g>
      <rect x={1044} y={347.3} width={282} height={788.7} fill="none" stroke="#000" strokeWidth={2.2} />
      {chiTicks.map(t => <line key={t} x1={1044} x2={1033} y1={yMain(t)} y2={yMain(t)} stroke="#000" strokeWidth={2.2} />)}
      <text transform="translate(1353,336) rotate(90)" fontSize={41} fontStyle="italic">χ</text>
      <text transform="translate(1346,363) rotate(90)" fontSize={28}>eff</text>
      <text transform="translate(1353,416) rotate(90)" fontSize={41}>=</text>
      <text transform="translate(1353,465) rotate(90)" fontSize={41}>−0.19</text>
      <text transform="translate(1372,600) rotate(90)" fontSize={27.5}>+0.23</text>
      <text transform="translate(1344,600) rotate(90)" fontSize={27.5}>−0.29</text>

      {/* colorbar */}
      {barSteps.map(i => {
        const s0 = snrRange[0] + (i / 256) * (snrRange[1] - snrRange[0]);
        const s1 = snrRange[0] + ((i + 1) / 256) * (snrRange[1] - snrRange[0]);
        return <rect key={i} x={1406} width={48} y={yBar(s1)} height={yBar(s0) - yBar(s1) + 0.6} fill={color(s0)} />;
      })}
      <rect x={1406} y={30} width={48} height={1120} fill="none" stroke="#000" strokeWidth={2.2} />
      {snrTicks.map(t => (
        <g key={t} transform={`translate(1454,${yBar(t)})`}>
          <line x2={10} stroke="#000" strokeWidth={2.2} />
          <text x={21} y={9.5} fontSize={21}>{tickFormat(t)}</text>
        </g>
      ))}
      <text transform="translate(1561,590) rotate(-90)" textAnchor="middle" fontSize={32}>snr</text>
    </svg>
  );
};

export default App;
